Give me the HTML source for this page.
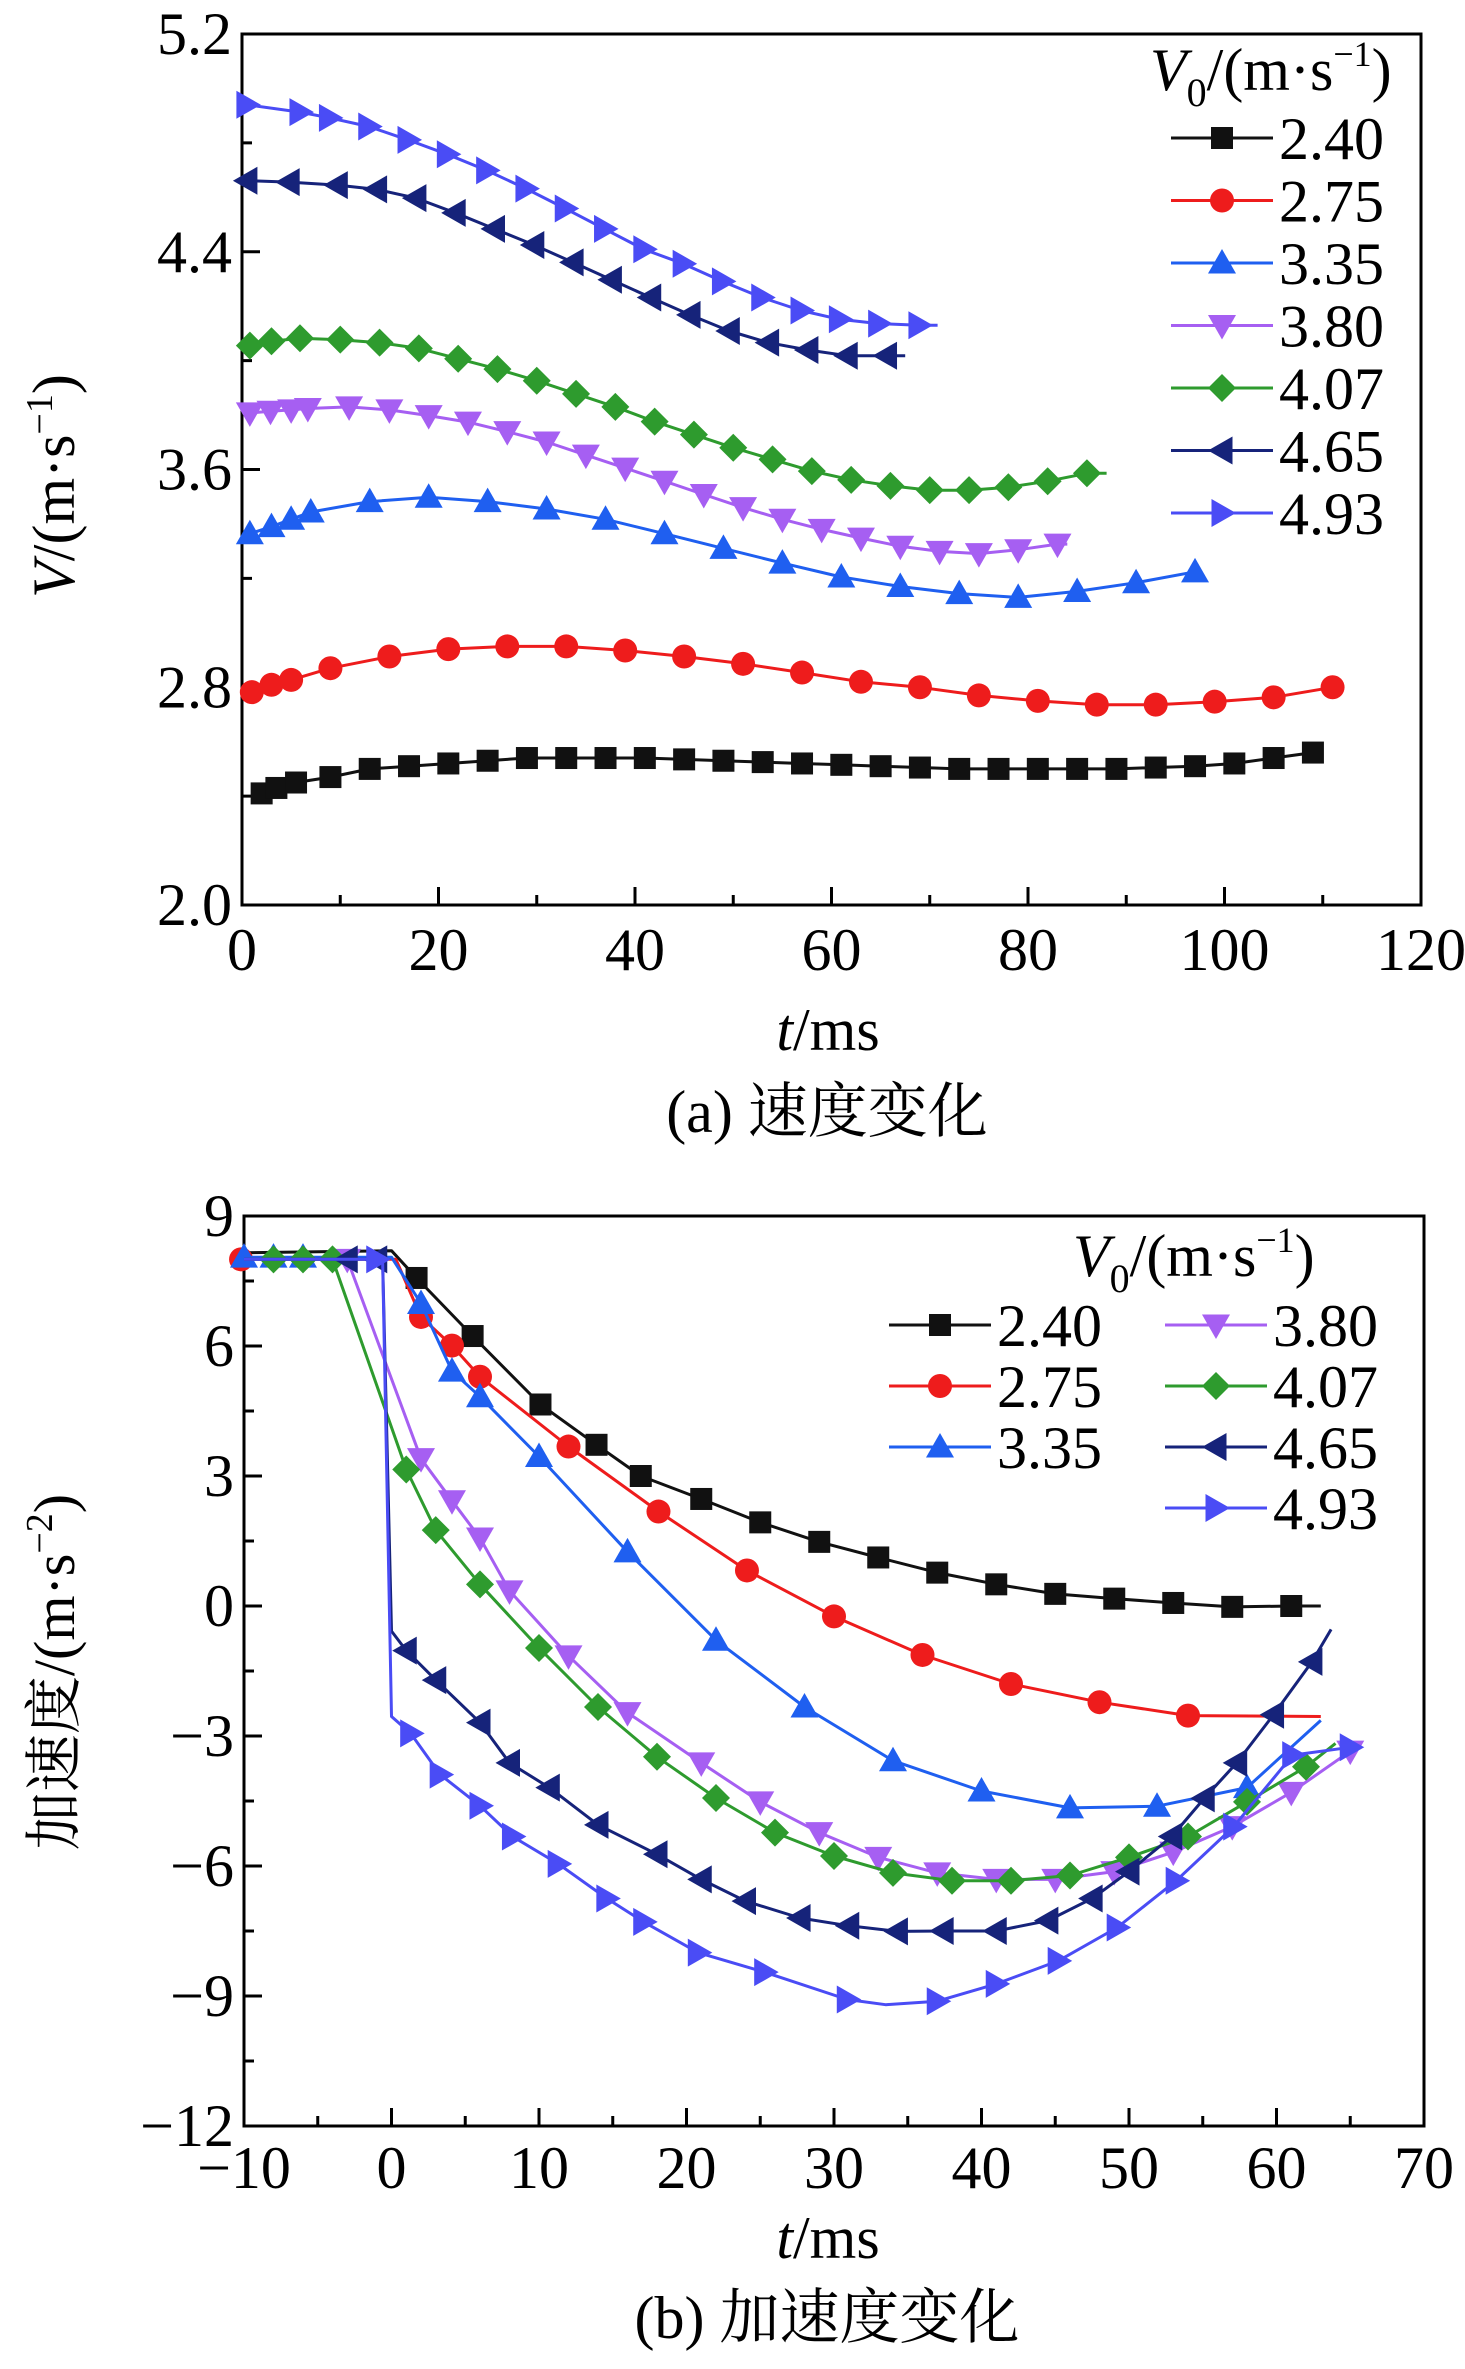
<!DOCTYPE html>
<html><head><meta charset="utf-8">
<style>
html,body{margin:0;padding:0;background:#fff;}
svg{display:block;font-family:"Liberation Serif","Noto Serif CJK SC",serif;}
</style></head>
<body>
<svg id="fig" width="1465" height="2369" viewBox="0 0 1465 2369" xmlns="http://www.w3.org/2000/svg">
<rect width="1465" height="2369" fill="#fff"/>
<g id="chartA"></g>
<g id="chartB"></g>
<text x="827" y="1132" font-size="60" text-anchor="middle">(a) 速度变化</text>
<text x="827" y="2338" font-size="60" text-anchor="middle">(b) 加速度变化</text>
</svg>
<script>
// ---- Chart A data (velocity) ----
const seriesNames = ["2.40","2.75","3.35","3.80","4.07","4.65","4.93"];
const colors = ["#111111","#ee1c1c","#1f5ff0","#a65ff2","#2e9b2e","#16237a","#4a4cf5"];
const markers = ["square","circle","up","down","diamond","left","right"];
const xTicksA = [0,20,40,60,80,100,120];
const yTicksA = [2.0,2.8,3.6,4.4,5.2];
const yTickLabelsA = ["2.0","2.8","3.6","4.4","5.2"];
const tA0 = [2,3.5,5.5,9,13,17,21,25,29,33,37,41,45,49,53,57,61,65,69,73,77,81,85,89,93,97,101,105,109];
const vA0 = [2.41,2.43,2.45,2.47,2.50,2.51,2.52,2.53,2.54,2.54,2.54,2.54,2.535,2.53,2.525,2.52,2.515,2.51,2.505,2.5,2.5,2.5,2.5,2.5,2.505,2.51,2.52,2.54,2.56];
const tA1 = [1,3,5,9,15,21,27,33,39,45,51,57,63,69,75,81,87,93,99,105,111];
const vA1 = [2.782,2.809,2.827,2.87,2.913,2.94,2.95,2.95,2.935,2.913,2.886,2.854,2.82,2.8,2.77,2.75,2.736,2.736,2.747,2.763,2.8];
const tA2 = [0.8,3,5,7,13,19,25,31,37,43,49,55,61,67,73,79,85,91,97];
const vA2 = [3.364,3.39,3.417,3.444,3.482,3.498,3.482,3.455,3.417,3.364,3.31,3.256,3.205,3.17,3.144,3.13,3.152,3.184,3.224];
const tA3 = [0.8,2.9,5,6.7,10.9,15,19,23,27,31,35,39,43,47,51,55,59,63,67,71,75,79,83];
const vA3 = [3.808,3.814,3.819,3.824,3.83,3.819,3.798,3.774,3.739,3.701,3.653,3.605,3.557,3.508,3.46,3.417,3.38,3.348,3.318,3.299,3.291,3.305,3.326];
const tA4 = [0.8,3,5.9,10,14,18,22,26,30,34,38,42,46,50,54,58,62,66,70,74,78,82,86];
const vA4 = [4.055,4.071,4.082,4.077,4.066,4.045,4.007,3.969,3.926,3.878,3.83,3.776,3.728,3.68,3.637,3.594,3.562,3.54,3.524,3.524,3.535,3.557,3.586];
const tA5 = [0.5,4.8,9.7,13.7,17.7,21.7,25.7,29.7,33.7,37.6,41.6,45.6,49.6,53.6,57.6,61.6,65.6];
const vA5 = [4.661,4.656,4.645,4.629,4.597,4.543,4.484,4.425,4.361,4.297,4.232,4.168,4.109,4.066,4.039,4.018,4.018];
const tA6 = [0.5,5.9,8.9,12.9,16.9,20.9,24.9,28.9,32.9,36.9,40.9,44.9,48.9,52.9,56.9,60.8,64.8,68.9];
const vA6 = [4.94,4.913,4.892,4.86,4.811,4.758,4.699,4.632,4.559,4.484,4.409,4.356,4.291,4.232,4.184,4.152,4.136,4.13];
// ---- Chart B data (acceleration) ----
const xTicksB = [-10,0,10,20,30,40,50,60,70];
const xTickLabelsB = ["\u221210","0","10","20","30","40","50","60","70"];
const yTicksB = [-12,-9,-6,-3,0,3,6,9];
const yTickLabelsB = ["\u221212","\u22129","\u22126","\u22123","0","3","6","9"];
const tB0 = [-10,0,1.7,5.5,10.1,13.9,16.9,21,25,29,33,37,41,45,49,53,57,61,63];
const vB0 = [8.15,8.2,7.57,6.23,4.65,3.72,3.0,2.47,1.93,1.48,1.12,0.77,0.5,0.28,0.17,0.07,-0.02,0.0,0.0];
const mB0 = [0,0,1,1,1,1,1,1,1,1,1,1,1,1,1,1,1,1,0];
const tB1 = [-10.2,0.3,2.0,4.1,6.0,12.0,18.1,24.1,30,36,42,48,54,63];
const vB1 = [8.0,8.0,6.67,6.01,5.29,3.68,2.18,0.82,-0.24,-1.13,-1.8,-2.22,-2.53,-2.55];
const mB1 = [1,0,1,1,1,1,1,1,1,1,1,1,1,0];
const tB2 = [-10,-8,-6,0,2,4.1,6,10,16,22,28,34,40,46,51.9,58,63];
const vB2 = [8.05,8.05,8.05,8.05,6.98,5.42,4.83,3.45,1.25,-0.79,-2.33,-3.57,-4.27,-4.66,-4.62,-4.19,-2.64];
const mB2 = [1,1,1,0,1,1,1,1,1,1,1,1,1,1,1,1,0];
const tB3 = [-10,-3,2,4.1,6,8,12,16,21,25,29,33,37,41,45,49,53,57,61,65];
const vB3 = [8.0,8.0,3.40,2.43,1.57,0.35,-1.15,-2.46,-3.62,-4.52,-5.23,-5.8,-6.16,-6.31,-6.31,-6.13,-5.68,-5.09,-4.3,-3.35];
const mB3 = [0,1,1,1,1,1,1,1,1,1,1,1,1,1,1,1,1,1,1,1];
const tB4 = [-10,-8,-6,-4,1,3,6,10,14,18,22,26,30,34,38,42,46,50,54,58,62,64];
const vB4 = [8.0,8.0,8.0,8.0,3.15,1.75,0.5,-0.97,-2.33,-3.48,-4.43,-5.23,-5.77,-6.16,-6.34,-6.34,-6.22,-5.8,-5.32,-4.52,-3.71,-3.17];
const mB4 = [0,1,1,1,1,1,1,1,1,1,1,1,1,1,1,1,1,1,1,1,1,0];
const tB5 = [-10,-3,-1,-0.6,0,1,3,6,8,10.7,14,18,21,24,27.7,31,34.3,37.4,41,44.5,47.5,50,52.9,55.1,57.3,59.8,62.4,63.7];
const vB5 = [8.0,8.0,8.0,8.0,-0.58,-1.03,-1.71,-2.69,-3.62,-4.19,-5.05,-5.73,-6.31,-6.81,-7.2,-7.38,-7.51,-7.5,-7.5,-7.26,-6.75,-6.13,-5.32,-4.44,-3.62,-2.51,-1.29,-0.54];
const mB5 = [0,1,1,0,0,1,1,1,1,1,1,1,1,1,1,1,1,1,1,1,1,1,1,1,1,1,1,0];
const tB6 = [-10,-1,-0.6,0,1.3,3.3,6,8.2,11.3,14.6,17.1,20.8,25.3,30.9,33.5,37,41,45.2,49.2,53.2,57.1,61.1,65];
const vB6 = [8.0,8.0,8.0,-2.55,-2.94,-3.89,-4.61,-5.32,-5.95,-6.75,-7.29,-8.0,-8.45,-9.08,-9.2,-9.12,-8.72,-8.19,-7.42,-6.34,-5.09,-3.44,-3.26];
const mB6 = [0,1,0,0,1,1,1,1,1,1,1,1,1,1,0,1,1,1,1,1,1,1,1];

const NS = "http://www.w3.org/2000/svg";
function mk(tag, attrs, parent){
  const e = document.createElementNS(NS, tag);
  for (const k in attrs) e.setAttribute(k, attrs[k]);
  parent.appendChild(e);
  return e;
}
function markerShape(type, cx, cy, color, parent, name){
  const s = 11;
  let e;
  if (type === "square") e = mk("rect", {x:cx-s, y:cy-s, width:2*s, height:2*s, fill:color}, parent);
  else if (type === "circle") e = mk("circle", {cx:cx, cy:cy, r:s+1, fill:color}, parent);
  else {
    let pts;
    const r = s + 3;
    if (type === "up") pts = [[cx,cy-r],[cx+r,cy+r*0.75],[cx-r,cy+r*0.75]];
    else if (type === "down") pts = [[cx,cy+r],[cx+r,cy-r*0.75],[cx-r,cy-r*0.75]];
    else if (type === "left") pts = [[cx-r,cy],[cx+r*0.75,cy-r],[cx+r*0.75,cy+r]];
    else if (type === "right") pts = [[cx+r,cy],[cx-r*0.75,cy-r],[cx-r*0.75,cy+r]];
    else pts = [[cx,cy-r],[cx+r,cy],[cx,cy+r],[cx-r,cy]];
    e = mk("polygon", {points: pts.map(p=>p.join(",")).join(" "), fill:color}, parent);
  }
  
  
  return e;
}
function axes(g, x0, x1, y0, y1, xMin, xMax, yMin, yMax, xTicks, xLabels, xMinor, yTicks, yLabels, yMinor, xLabelY){
  const sx = v => x0 + (v - xMin) / (xMax - xMin) * (x1 - x0);
  const sy = v => y1 - (v - yMin) / (yMax - yMin) * (y1 - y0);
  const frame = mk("rect", {x:x0, y:y0, width:x1-x0, height:y1-y0, fill:"none", stroke:"#000", "stroke-width":3}, g);
  
  
  for (let v = xMin; v <= xMax + 1e-9; v += xMinor) {
    const major = xTicks.some(t => Math.abs(t - v) < 1e-6);
    mk("line", {x1:sx(v), x2:sx(v), y1:y1, y2:y1 - (major ? 18 : 10), stroke:"#000", "stroke-width":3}, g);
  }
  for (let v = yMin; v <= yMax + 1e-9; v += yMinor) {
    const major = yTicks.some(t => Math.abs(t - v) < 1e-6);
    mk("line", {x1:x0, x2:x0 + (major ? 18 : 10), y1:sy(v), y2:sy(v), stroke:"#000", "stroke-width":3}, g);
  }
  xTicks.forEach((t, i) => {
    const tx = mk("text", {x:sx(t), y:xLabelY, "font-size":60, "text-anchor":"middle"}, g);
    tx.textContent = xLabels[i];
    
    
  });
  yTicks.forEach((t, i) => {
    const tx = mk("text", {x:x0 - 10, y:sy(t) + 20, "font-size":60, "text-anchor":"end"}, g);
    tx.textContent = yLabels[i];
    
    
  });
  return {sx, sy};
}
function drawSeries(g, sc, ts, vs, ms, idx){
  const sg = mk("g", {}, g);
  
  
  const d = ts.map((t, i) => (i ? "L" : "M") + sc.sx(t).toFixed(1) + "," + sc.sy(vs[i]).toFixed(1)).join(" ");
  const p = mk("path", {d:d, fill:"none", stroke:colors[idx], "stroke-width":3, "stroke-linejoin":"round"}, sg);
  
  
  ts.forEach((t, i) => {
    if (ms && !ms[i]) return;
    markerShape(markers[idx], sc.sx(t), sc.sy(vs[i]), colors[idx], sg, 'point-' + seriesNames[idx]);
  });
}
function legendEntry(g, x, y, idx){
  const eg = mk("g", {}, g);
  
  
  mk("line", {x1:x, x2:x + 102, y1:y, y2:y, stroke:colors[idx], "stroke-width":3}, eg);
  markerShape(markers[idx], x + 51, y, colors[idx], eg, 'legend-marker');
  const t = mk("text", {x:x + 108, y:y + 21, "font-size":60}, eg);
  t.textContent = seriesNames[idx];
  
  
}
function legendTitle(g, x, y){
  const t = mk("text", {x:x, y:y, "font-size":60}, g);
  t.innerHTML = '<tspan font-style="italic">V</tspan><tspan font-size="40" dy="16">0</tspan><tspan dy="-16">/(m·s</tspan><tspan font-size="36" dy="-24">\u22121</tspan><tspan dy="24">)</tspan>';
  
  
}

// ---- Chart A ----
const gA = document.getElementById("chartA");
const scA = axes(gA, 242, 1421, 34, 905, 0, 120, 2.0, 5.2, xTicksA, xTicksA.map(String), 10, yTicksA, yTickLabelsA, 0.4, 970);
const tA = [tA0,tA1,tA2,tA3,tA4,tA5,tA6], vA = [vA0,vA1,vA2,vA3,vA4,vA5,vA6];
const endA = [109,112,97,84,88,67.5,70.8];
for (let i = 0; i < 7; i++) {
  const tt = tA[i].slice(), vv = vA[i].slice();
  const last = tt.length - 1;
  const m = tt.map(() => 1);
  if (endA[i] > tt[last]) { tt.push(endA[i]); vv.push(vv[last]); m.push(0); }
  drawSeries(gA, scA, tt, vv, m, i);
}
const legA = mk("g", {}, gA);


legendTitle(legA, 1150, 90);
for (let i = 0; i < 7; i++) legendEntry(legA, 1171, 138 + i * 62.5, i);
const xtA = mk("text", {x:828, y:1050, "font-size":60, "text-anchor":"middle"}, gA);
xtA.innerHTML = '<tspan font-style="italic">t</tspan>/ms';


const ytA = mk("text", {x:0, y:0, "font-size":60, "text-anchor":"middle", transform:"translate(74,486) rotate(-90)"}, gA);
ytA.innerHTML = '<tspan font-style="italic">V</tspan>/(m·s<tspan font-size="38" dy="-22">\u22121</tspan><tspan dy="22">)</tspan>';



// ---- Chart B ----
const gB = document.getElementById("chartB");
const scB = axes(gB, 244, 1424, 1216, 2126, -10, 70, -12, 9, xTicksB, xTickLabelsB, 5, yTicksB, yTickLabelsB, 1.5, 2188);
const tB = [tB0,tB1,tB2,tB3,tB4,tB5,tB6], vB = [vB0,vB1,vB2,vB3,vB4,vB5,vB6], mBs = [mB0,mB1,mB2,mB3,mB4,mB5,mB6];
for (let i = 0; i < 7; i++) drawSeries(gB, scB, tB[i], vB[i], mBs[i], i);
const legB = mk("g", {}, gB);


legendTitle(legB, 1073, 1276);
const colOf = [0,0,0,1,1,1,1], rowOf = [0,1,2,0,1,2,3];
for (let i = 0; i < 7; i++) legendEntry(legB, colOf[i] ? 1165 : 889, 1325 + rowOf[i] * 61, i);
const xtB = mk("text", {x:828, y:2258, "font-size":60, "text-anchor":"middle"}, gB);
xtB.innerHTML = '<tspan font-style="italic">t</tspan>/ms';


const ytB = mk("text", {x:0, y:0, "font-size":58, "text-anchor":"middle", transform:"translate(74,1672) rotate(-90)"}, gB);
ytB.innerHTML = '加速度/(m·s<tspan font-size="38" dy="-22">\u22122</tspan><tspan dy="22">)</tspan>';


</script>
</body></html>
